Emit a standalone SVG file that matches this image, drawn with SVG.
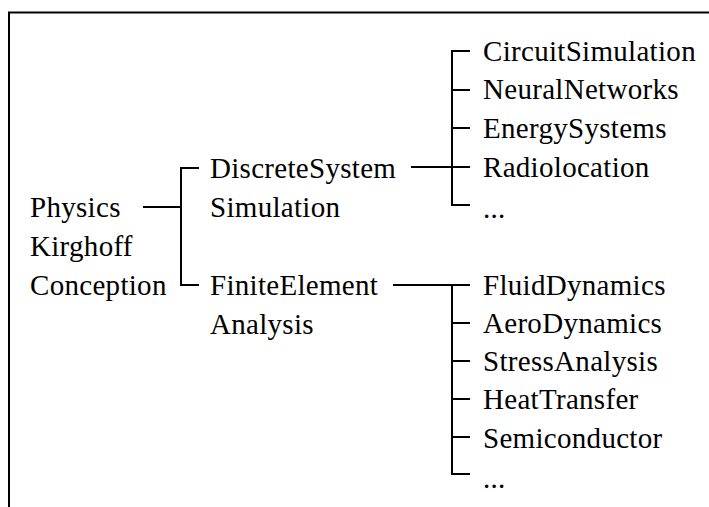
<svg xmlns="http://www.w3.org/2000/svg" width="709" height="507" viewBox="0 0 709 507">
<style>
text{font-family:"Liberation Serif","Times New Roman",serif;font-size:29px;letter-spacing:0.3px;fill:#000}
.ln{stroke:#000;stroke-width:2;fill:none}
</style>
<rect width="709" height="507" fill="#fff"/>
<path class="ln" d="M9,507 V12.5 H709"/>
<g id="root"><text x="30" y="217">Physics</text><text x="30" y="256">Kirghoff</text><text x="30" y="295">Conception</text></g>
<g id="dss"><text x="210" y="178">DiscreteSystem</text><text x="210" y="217">Simulation</text></g>
<g id="fea"><text x="210" y="295">FiniteElement</text><text x="210" y="334">Analysis</text></g>
<g id="l1"><text x="483" y="61">CircuitSimulation</text></g>
<g id="l2"><text x="483" y="99">NeuralNetworks</text></g>
<g id="l3"><text x="483" y="138">EnergySystems</text></g>
<g id="l4"><text x="483" y="177">Radiolocation</text></g>
<g id="l5"><text x="483" y="218">...</text></g>
<g id="l6"><text x="483" y="295">FluidDynamics</text></g>
<g id="l7"><text x="483" y="333">AeroDynamics</text></g>
<g id="l8"><text x="483" y="371">StressAnalysis</text></g>
<g id="l9"><text x="483" y="409">HeatTransfer</text></g>
<g id="l10"><text x="483" y="448">Semiconductor</text></g>
<g id="l11"><text x="483" y="488">...</text></g>
<g id="connectors" class="ln">
<path d="M143,207 H181 M199,168 H181 V285 H199"/>
<path d="M411,167 H470 M470,51 H452 V205 H470 M452,90 H470 M452,128 H470"/>
<path d="M393,285 H470 M452,285 V474 H470 M452,323 H470 M452,361 H470 M452,399 H470 M452,437 H470"/>
</g>
</svg>
